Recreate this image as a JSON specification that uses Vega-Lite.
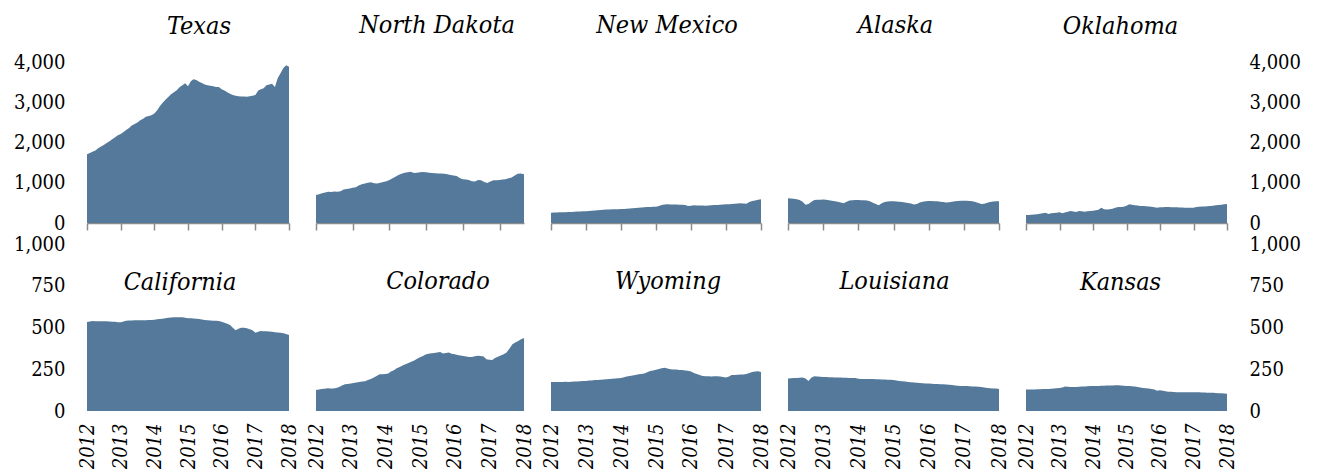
{
"$schema": "https://vega.github.io/schema/vega-lite/v6.json",
"padding": {"left": 13, "top": 13, "right": 5, "bottom": 0},
"background": "white",
"config": {
  "view": {"stroke": null},
  "font": "DejaVu Serif Condensed",
  "title": {"font": "DejaVu Serif Condensed", "fontSize": 25, "fontStyle": "italic", "fontWeight": "normal", "color": "#000000", "frame": "group", "anchor": "middle", "offset": 24},
  "axis": {"grid": false, "title": null, "labelFont": "DejaVu Serif Condensed", "labelColor": "#000000", "labelFontSize": 20, "labelOverlap": false, "labelFlush": false},
  "axisY": {"ticks": false, "domain": false, "labelPadding": 22},
  "area": {"color": "#55799a"}
},
"data": {"values": [
{"st":"TX","m":"2012-01","v":1706},{"st":"TX","m":"2012-02","v":1740},{"st":"TX","m":"2012-03","v":1770},{"st":"TX","m":"2012-04","v":1800},{"st":"TX","m":"2012-05","v":1860},{"st":"TX","m":"2012-06","v":1900},{"st":"TX","m":"2012-07","v":1940},{"st":"TX","m":"2012-08","v":1985},{"st":"TX","m":"2012-09","v":2030},{"st":"TX","m":"2012-10","v":2080},{"st":"TX","m":"2012-11","v":2130},{"st":"TX","m":"2012-12","v":2180},
{"st":"TX","m":"2013-01","v":2210},{"st":"TX","m":"2013-02","v":2260},{"st":"TX","m":"2013-03","v":2310},{"st":"TX","m":"2013-04","v":2360},{"st":"TX","m":"2013-05","v":2420},{"st":"TX","m":"2013-06","v":2460},{"st":"TX","m":"2013-07","v":2500},{"st":"TX","m":"2013-08","v":2550},{"st":"TX","m":"2013-09","v":2590},{"st":"TX","m":"2013-10","v":2640},{"st":"TX","m":"2013-11","v":2660},{"st":"TX","m":"2013-12","v":2680},
{"st":"TX","m":"2014-01","v":2720},{"st":"TX","m":"2014-02","v":2800},{"st":"TX","m":"2014-03","v":2900},{"st":"TX","m":"2014-04","v":2990},{"st":"TX","m":"2014-05","v":3060},{"st":"TX","m":"2014-06","v":3130},{"st":"TX","m":"2014-07","v":3200},{"st":"TX","m":"2014-08","v":3250},{"st":"TX","m":"2014-09","v":3300},{"st":"TX","m":"2014-10","v":3370},{"st":"TX","m":"2014-11","v":3420},{"st":"TX","m":"2014-12","v":3470},
{"st":"TX","m":"2015-01","v":3400},{"st":"TX","m":"2015-02","v":3520},{"st":"TX","m":"2015-03","v":3570},{"st":"TX","m":"2015-04","v":3550},{"st":"TX","m":"2015-05","v":3510},{"st":"TX","m":"2015-06","v":3480},{"st":"TX","m":"2015-07","v":3440},{"st":"TX","m":"2015-08","v":3420},{"st":"TX","m":"2015-09","v":3410},{"st":"TX","m":"2015-10","v":3400},{"st":"TX","m":"2015-11","v":3380},{"st":"TX","m":"2015-12","v":3380},
{"st":"TX","m":"2016-01","v":3320},{"st":"TX","m":"2016-02","v":3290},{"st":"TX","m":"2016-03","v":3250},{"st":"TX","m":"2016-04","v":3210},{"st":"TX","m":"2016-05","v":3180},{"st":"TX","m":"2016-06","v":3160},{"st":"TX","m":"2016-07","v":3150},{"st":"TX","m":"2016-08","v":3140},{"st":"TX","m":"2016-09","v":3140},{"st":"TX","m":"2016-10","v":3135},{"st":"TX","m":"2016-11","v":3150},{"st":"TX","m":"2016-12","v":3160},
{"st":"TX","m":"2017-01","v":3180},{"st":"TX","m":"2017-02","v":3290},{"st":"TX","m":"2017-03","v":3320},{"st":"TX","m":"2017-04","v":3350},{"st":"TX","m":"2017-05","v":3420},{"st":"TX","m":"2017-06","v":3440},{"st":"TX","m":"2017-07","v":3460},{"st":"TX","m":"2017-08","v":3380},{"st":"TX","m":"2017-09","v":3600},{"st":"TX","m":"2017-10","v":3720},{"st":"TX","m":"2017-11","v":3850},{"st":"TX","m":"2017-12","v":3920},{"st":"TX","m":"2018-01","v":3880},
{"st":"ND","m":"2012-01","v":696},{"st":"ND","m":"2012-02","v":715},{"st":"ND","m":"2012-03","v":740},{"st":"ND","m":"2012-04","v":760},{"st":"ND","m":"2012-05","v":778},{"st":"ND","m":"2012-06","v":772},{"st":"ND","m":"2012-07","v":780},{"st":"ND","m":"2012-08","v":778},{"st":"ND","m":"2012-09","v":790},{"st":"ND","m":"2012-10","v":830},{"st":"ND","m":"2012-11","v":845},{"st":"ND","m":"2012-12","v":860},
{"st":"ND","m":"2013-01","v":875},{"st":"ND","m":"2013-02","v":890},{"st":"ND","m":"2013-03","v":930},{"st":"ND","m":"2013-04","v":960},{"st":"ND","m":"2013-05","v":980},{"st":"ND","m":"2013-06","v":1000},{"st":"ND","m":"2013-07","v":1010},{"st":"ND","m":"2013-08","v":990},{"st":"ND","m":"2013-09","v":980},{"st":"ND","m":"2013-10","v":1000},{"st":"ND","m":"2013-11","v":1020},{"st":"ND","m":"2013-12","v":1040},
{"st":"ND","m":"2014-01","v":1070},{"st":"ND","m":"2014-02","v":1110},{"st":"ND","m":"2014-03","v":1150},{"st":"ND","m":"2014-04","v":1190},{"st":"ND","m":"2014-05","v":1225},{"st":"ND","m":"2014-06","v":1250},{"st":"ND","m":"2014-07","v":1260},{"st":"ND","m":"2014-08","v":1275},{"st":"ND","m":"2014-09","v":1240},{"st":"ND","m":"2014-10","v":1250},{"st":"ND","m":"2014-11","v":1262},{"st":"ND","m":"2014-12","v":1267},
{"st":"ND","m":"2015-01","v":1262},{"st":"ND","m":"2015-02","v":1250},{"st":"ND","m":"2015-03","v":1240},{"st":"ND","m":"2015-04","v":1238},{"st":"ND","m":"2015-05","v":1230},{"st":"ND","m":"2015-06","v":1228},{"st":"ND","m":"2015-07","v":1225},{"st":"ND","m":"2015-08","v":1210},{"st":"ND","m":"2015-09","v":1190},{"st":"ND","m":"2015-10","v":1180},{"st":"ND","m":"2015-11","v":1170},{"st":"ND","m":"2015-12","v":1120},
{"st":"ND","m":"2016-01","v":1090},{"st":"ND","m":"2016-02","v":1080},{"st":"ND","m":"2016-03","v":1070},{"st":"ND","m":"2016-04","v":1040},{"st":"ND","m":"2016-05","v":1030},{"st":"ND","m":"2016-06","v":1070},{"st":"ND","m":"2016-07","v":1060},{"st":"ND","m":"2016-08","v":1020},{"st":"ND","m":"2016-09","v":995},{"st":"ND","m":"2016-10","v":1030},{"st":"ND","m":"2016-11","v":1060},{"st":"ND","m":"2016-12","v":1065},
{"st":"ND","m":"2017-01","v":1070},{"st":"ND","m":"2017-02","v":1078},{"st":"ND","m":"2017-03","v":1090},{"st":"ND","m":"2017-04","v":1110},{"st":"ND","m":"2017-05","v":1130},{"st":"ND","m":"2017-06","v":1180},{"st":"ND","m":"2017-07","v":1225},{"st":"ND","m":"2017-08","v":1230},{"st":"ND","m":"2017-09","v":1210},
{"st":"NM","m":"2012-01","v":257},{"st":"NM","m":"2012-02","v":259},{"st":"NM","m":"2012-03","v":261},{"st":"NM","m":"2012-04","v":264},{"st":"NM","m":"2012-05","v":267},{"st":"NM","m":"2012-06","v":270},{"st":"NM","m":"2012-07","v":273},{"st":"NM","m":"2012-08","v":276},{"st":"NM","m":"2012-09","v":280},{"st":"NM","m":"2012-10","v":284},{"st":"NM","m":"2012-11","v":287},{"st":"NM","m":"2012-12","v":290},
{"st":"NM","m":"2013-01","v":293},{"st":"NM","m":"2013-02","v":297},{"st":"NM","m":"2013-03","v":303},{"st":"NM","m":"2013-04","v":310},{"st":"NM","m":"2013-05","v":318},{"st":"NM","m":"2013-06","v":325},{"st":"NM","m":"2013-07","v":331},{"st":"NM","m":"2013-08","v":334},{"st":"NM","m":"2013-09","v":337},{"st":"NM","m":"2013-10","v":339},{"st":"NM","m":"2013-11","v":340},{"st":"NM","m":"2013-12","v":342},
{"st":"NM","m":"2014-01","v":345},{"st":"NM","m":"2014-02","v":350},{"st":"NM","m":"2014-03","v":355},{"st":"NM","m":"2014-04","v":362},{"st":"NM","m":"2014-05","v":368},{"st":"NM","m":"2014-06","v":374},{"st":"NM","m":"2014-07","v":380},{"st":"NM","m":"2014-08","v":386},{"st":"NM","m":"2014-09","v":392},{"st":"NM","m":"2014-10","v":397},{"st":"NM","m":"2014-11","v":400},{"st":"NM","m":"2014-12","v":403},
{"st":"NM","m":"2015-01","v":406},{"st":"NM","m":"2015-02","v":420},{"st":"NM","m":"2015-03","v":450},{"st":"NM","m":"2015-04","v":460},{"st":"NM","m":"2015-05","v":464},{"st":"NM","m":"2015-06","v":462},{"st":"NM","m":"2015-07","v":460},{"st":"NM","m":"2015-08","v":458},{"st":"NM","m":"2015-09","v":455},{"st":"NM","m":"2015-10","v":452},{"st":"NM","m":"2015-11","v":450},{"st":"NM","m":"2015-12","v":420},
{"st":"NM","m":"2016-01","v":430},{"st":"NM","m":"2016-02","v":439},{"st":"NM","m":"2016-03","v":437},{"st":"NM","m":"2016-04","v":434},{"st":"NM","m":"2016-05","v":432},{"st":"NM","m":"2016-06","v":431},{"st":"NM","m":"2016-07","v":435},{"st":"NM","m":"2016-08","v":440},{"st":"NM","m":"2016-09","v":445},{"st":"NM","m":"2016-10","v":450},{"st":"NM","m":"2016-11","v":455},{"st":"NM","m":"2016-12","v":460},
{"st":"NM","m":"2017-01","v":464},{"st":"NM","m":"2017-02","v":468},{"st":"NM","m":"2017-03","v":474},{"st":"NM","m":"2017-04","v":480},{"st":"NM","m":"2017-05","v":487},{"st":"NM","m":"2017-06","v":490},{"st":"NM","m":"2017-07","v":482},{"st":"NM","m":"2017-08","v":480},{"st":"NM","m":"2017-09","v":520},{"st":"NM","m":"2017-10","v":546},{"st":"NM","m":"2017-11","v":560},{"st":"NM","m":"2017-12","v":575},{"st":"NM","m":"2018-01","v":588},
{"st":"AK","m":"2012-01","v":613},{"st":"AK","m":"2012-02","v":610},{"st":"AK","m":"2012-03","v":604},{"st":"AK","m":"2012-04","v":590},{"st":"AK","m":"2012-05","v":570},{"st":"AK","m":"2012-06","v":530},{"st":"AK","m":"2012-07","v":455},{"st":"AK","m":"2012-08","v":470},{"st":"AK","m":"2012-09","v":530},{"st":"AK","m":"2012-10","v":570},{"st":"AK","m":"2012-11","v":580},{"st":"AK","m":"2012-12","v":580},
{"st":"AK","m":"2013-01","v":582},{"st":"AK","m":"2013-02","v":575},{"st":"AK","m":"2013-03","v":565},{"st":"AK","m":"2013-04","v":555},{"st":"AK","m":"2013-05","v":540},{"st":"AK","m":"2013-06","v":525},{"st":"AK","m":"2013-07","v":510},{"st":"AK","m":"2013-08","v":489},{"st":"AK","m":"2013-09","v":530},{"st":"AK","m":"2013-10","v":560},{"st":"AK","m":"2013-11","v":568},{"st":"AK","m":"2013-12","v":571},
{"st":"AK","m":"2014-01","v":571},{"st":"AK","m":"2014-02","v":568},{"st":"AK","m":"2014-03","v":565},{"st":"AK","m":"2014-04","v":562},{"st":"AK","m":"2014-05","v":540},{"st":"AK","m":"2014-06","v":505},{"st":"AK","m":"2014-07","v":470},{"st":"AK","m":"2014-08","v":440},{"st":"AK","m":"2014-09","v":490},{"st":"AK","m":"2014-10","v":522},{"st":"AK","m":"2014-11","v":532},{"st":"AK","m":"2014-12","v":538},
{"st":"AK","m":"2015-01","v":540},{"st":"AK","m":"2015-02","v":535},{"st":"AK","m":"2015-03","v":528},{"st":"AK","m":"2015-04","v":520},{"st":"AK","m":"2015-05","v":510},{"st":"AK","m":"2015-06","v":495},{"st":"AK","m":"2015-07","v":485},{"st":"AK","m":"2015-08","v":460},{"st":"AK","m":"2015-09","v":470},{"st":"AK","m":"2015-10","v":510},{"st":"AK","m":"2015-11","v":525},{"st":"AK","m":"2015-12","v":540},
{"st":"AK","m":"2016-01","v":546},{"st":"AK","m":"2016-02","v":544},{"st":"AK","m":"2016-03","v":540},{"st":"AK","m":"2016-04","v":538},{"st":"AK","m":"2016-05","v":530},{"st":"AK","m":"2016-06","v":520},{"st":"AK","m":"2016-07","v":508},{"st":"AK","m":"2016-08","v":515},{"st":"AK","m":"2016-09","v":530},{"st":"AK","m":"2016-10","v":538},{"st":"AK","m":"2016-11","v":545},{"st":"AK","m":"2016-12","v":550},
{"st":"AK","m":"2017-01","v":555},{"st":"AK","m":"2017-02","v":552},{"st":"AK","m":"2017-03","v":548},{"st":"AK","m":"2017-04","v":540},{"st":"AK","m":"2017-05","v":520},{"st":"AK","m":"2017-06","v":500},{"st":"AK","m":"2017-07","v":470},{"st":"AK","m":"2017-08","v":480},{"st":"AK","m":"2017-09","v":505},{"st":"AK","m":"2017-10","v":522},{"st":"AK","m":"2017-11","v":532},{"st":"AK","m":"2017-12","v":538},{"st":"AK","m":"2018-01","v":538},
{"st":"OK","m":"2012-01","v":199},{"st":"OK","m":"2012-02","v":200},{"st":"OK","m":"2012-03","v":204},{"st":"OK","m":"2012-04","v":210},{"st":"OK","m":"2012-05","v":218},{"st":"OK","m":"2012-06","v":232},{"st":"OK","m":"2012-07","v":245},{"st":"OK","m":"2012-08","v":257},{"st":"OK","m":"2012-09","v":224},{"st":"OK","m":"2012-10","v":240},{"st":"OK","m":"2012-11","v":248},{"st":"OK","m":"2012-12","v":255},
{"st":"OK","m":"2013-01","v":265},{"st":"OK","m":"2013-02","v":240},{"st":"OK","m":"2013-03","v":262},{"st":"OK","m":"2013-04","v":282},{"st":"OK","m":"2013-05","v":298},{"st":"OK","m":"2013-06","v":285},{"st":"OK","m":"2013-07","v":273},{"st":"OK","m":"2013-08","v":298},{"st":"OK","m":"2013-09","v":290},{"st":"OK","m":"2013-10","v":282},{"st":"OK","m":"2013-11","v":290},{"st":"OK","m":"2013-12","v":298},
{"st":"OK","m":"2014-01","v":305},{"st":"OK","m":"2014-02","v":315},{"st":"OK","m":"2014-03","v":331},{"st":"OK","m":"2014-04","v":381},{"st":"OK","m":"2014-05","v":340},{"st":"OK","m":"2014-06","v":338},{"st":"OK","m":"2014-07","v":340},{"st":"OK","m":"2014-08","v":355},{"st":"OK","m":"2014-09","v":381},{"st":"OK","m":"2014-10","v":397},{"st":"OK","m":"2014-11","v":400},{"st":"OK","m":"2014-12","v":406},
{"st":"OK","m":"2015-01","v":431},{"st":"OK","m":"2015-02","v":464},{"st":"OK","m":"2015-03","v":455},{"st":"OK","m":"2015-04","v":439},{"st":"OK","m":"2015-05","v":432},{"st":"OK","m":"2015-06","v":425},{"st":"OK","m":"2015-07","v":422},{"st":"OK","m":"2015-08","v":415},{"st":"OK","m":"2015-09","v":410},{"st":"OK","m":"2015-10","v":406},{"st":"OK","m":"2015-11","v":390},{"st":"OK","m":"2015-12","v":381},
{"st":"OK","m":"2016-01","v":389},{"st":"OK","m":"2016-02","v":392},{"st":"OK","m":"2016-03","v":395},{"st":"OK","m":"2016-04","v":397},{"st":"OK","m":"2016-05","v":394},{"st":"OK","m":"2016-06","v":391},{"st":"OK","m":"2016-07","v":389},{"st":"OK","m":"2016-08","v":386},{"st":"OK","m":"2016-09","v":384},{"st":"OK","m":"2016-10","v":381},{"st":"OK","m":"2016-11","v":380},{"st":"OK","m":"2016-12","v":381},
{"st":"OK","m":"2017-01","v":381},{"st":"OK","m":"2017-02","v":395},{"st":"OK","m":"2017-03","v":406},{"st":"OK","m":"2017-04","v":410},{"st":"OK","m":"2017-05","v":412},{"st":"OK","m":"2017-06","v":414},{"st":"OK","m":"2017-07","v":420},{"st":"OK","m":"2017-08","v":430},{"st":"OK","m":"2017-09","v":440},{"st":"OK","m":"2017-10","v":447},{"st":"OK","m":"2017-11","v":455},{"st":"OK","m":"2017-12","v":465},{"st":"OK","m":"2018-01","v":472},
{"st":"CA","m":"2012-01","v":533},{"st":"CA","m":"2012-02","v":536},{"st":"CA","m":"2012-03","v":539},{"st":"CA","m":"2012-04","v":538},{"st":"CA","m":"2012-05","v":538},{"st":"CA","m":"2012-06","v":537},{"st":"CA","m":"2012-07","v":537},{"st":"CA","m":"2012-08","v":537},{"st":"CA","m":"2012-09","v":536},{"st":"CA","m":"2012-10","v":535},{"st":"CA","m":"2012-11","v":534},{"st":"CA","m":"2012-12","v":532},
{"st":"CA","m":"2013-01","v":531},{"st":"CA","m":"2013-02","v":536},{"st":"CA","m":"2013-03","v":541},{"st":"CA","m":"2013-04","v":542},{"st":"CA","m":"2013-05","v":542},{"st":"CA","m":"2013-06","v":543},{"st":"CA","m":"2013-07","v":543},{"st":"CA","m":"2013-08","v":544},{"st":"CA","m":"2013-09","v":544},{"st":"CA","m":"2013-10","v":544},{"st":"CA","m":"2013-11","v":545},{"st":"CA","m":"2013-12","v":545},
{"st":"CA","m":"2014-01","v":547},{"st":"CA","m":"2014-02","v":549},{"st":"CA","m":"2014-03","v":551},{"st":"CA","m":"2014-04","v":553},{"st":"CA","m":"2014-05","v":555},{"st":"CA","m":"2014-06","v":558},{"st":"CA","m":"2014-07","v":560},{"st":"CA","m":"2014-08","v":561},{"st":"CA","m":"2014-09","v":561},{"st":"CA","m":"2014-10","v":561},{"st":"CA","m":"2014-11","v":561},{"st":"CA","m":"2014-12","v":559},
{"st":"CA","m":"2015-01","v":556},{"st":"CA","m":"2015-02","v":555},{"st":"CA","m":"2015-03","v":554},{"st":"CA","m":"2015-04","v":552},{"st":"CA","m":"2015-05","v":551},{"st":"CA","m":"2015-06","v":548},{"st":"CA","m":"2015-07","v":545},{"st":"CA","m":"2015-08","v":543},{"st":"CA","m":"2015-09","v":542},{"st":"CA","m":"2015-10","v":541},{"st":"CA","m":"2015-11","v":540},{"st":"CA","m":"2015-12","v":539},
{"st":"CA","m":"2016-01","v":535},{"st":"CA","m":"2016-02","v":529},{"st":"CA","m":"2016-03","v":522},{"st":"CA","m":"2016-04","v":515},{"st":"CA","m":"2016-05","v":499},{"st":"CA","m":"2016-06","v":483},{"st":"CA","m":"2016-07","v":492},{"st":"CA","m":"2016-08","v":499},{"st":"CA","m":"2016-09","v":498},{"st":"CA","m":"2016-10","v":495},{"st":"CA","m":"2016-11","v":490},{"st":"CA","m":"2016-12","v":483},
{"st":"CA","m":"2017-01","v":469},{"st":"CA","m":"2017-02","v":475},{"st":"CA","m":"2017-03","v":479},{"st":"CA","m":"2017-04","v":478},{"st":"CA","m":"2017-05","v":477},{"st":"CA","m":"2017-06","v":476},{"st":"CA","m":"2017-07","v":474},{"st":"CA","m":"2017-08","v":471},{"st":"CA","m":"2017-09","v":470},{"st":"CA","m":"2017-10","v":469},{"st":"CA","m":"2017-11","v":466},{"st":"CA","m":"2017-12","v":461},{"st":"CA","m":"2018-01","v":455},
{"st":"CO","m":"2012-01","v":126},{"st":"CO","m":"2012-02","v":129},{"st":"CO","m":"2012-03","v":131},{"st":"CO","m":"2012-04","v":133},{"st":"CO","m":"2012-05","v":136},{"st":"CO","m":"2012-06","v":135},{"st":"CO","m":"2012-07","v":134},{"st":"CO","m":"2012-08","v":138},{"st":"CO","m":"2012-09","v":144},{"st":"CO","m":"2012-10","v":152},{"st":"CO","m":"2012-11","v":160},{"st":"CO","m":"2012-12","v":162},
{"st":"CO","m":"2013-01","v":164},{"st":"CO","m":"2013-02","v":167},{"st":"CO","m":"2013-03","v":170},{"st":"CO","m":"2013-04","v":173},{"st":"CO","m":"2013-05","v":176},{"st":"CO","m":"2013-06","v":178},{"st":"CO","m":"2013-07","v":185},{"st":"CO","m":"2013-08","v":192},{"st":"CO","m":"2013-09","v":200},{"st":"CO","m":"2013-10","v":210},{"st":"CO","m":"2013-11","v":220},{"st":"CO","m":"2013-12","v":220},
{"st":"CO","m":"2014-01","v":221},{"st":"CO","m":"2014-02","v":224},{"st":"CO","m":"2014-03","v":236},{"st":"CO","m":"2014-04","v":244},{"st":"CO","m":"2014-05","v":256},{"st":"CO","m":"2014-06","v":263},{"st":"CO","m":"2014-07","v":272},{"st":"CO","m":"2014-08","v":280},{"st":"CO","m":"2014-09","v":287},{"st":"CO","m":"2014-10","v":295},{"st":"CO","m":"2014-11","v":303},{"st":"CO","m":"2014-12","v":313},
{"st":"CO","m":"2015-01","v":322},{"st":"CO","m":"2015-02","v":330},{"st":"CO","m":"2015-03","v":338},{"st":"CO","m":"2015-04","v":343},{"st":"CO","m":"2015-05","v":346},{"st":"CO","m":"2015-06","v":348},{"st":"CO","m":"2015-07","v":351},{"st":"CO","m":"2015-08","v":353},{"st":"CO","m":"2015-09","v":345},{"st":"CO","m":"2015-10","v":348},{"st":"CO","m":"2015-11","v":350},{"st":"CO","m":"2015-12","v":343},
{"st":"CO","m":"2016-01","v":340},{"st":"CO","m":"2016-02","v":336},{"st":"CO","m":"2016-03","v":333},{"st":"CO","m":"2016-04","v":330},{"st":"CO","m":"2016-05","v":327},{"st":"CO","m":"2016-06","v":324},{"st":"CO","m":"2016-07","v":323},{"st":"CO","m":"2016-08","v":328},{"st":"CO","m":"2016-09","v":331},{"st":"CO","m":"2016-10","v":329},{"st":"CO","m":"2016-11","v":327},{"st":"CO","m":"2016-12","v":310},
{"st":"CO","m":"2017-01","v":307},{"st":"CO","m":"2017-02","v":306},{"st":"CO","m":"2017-03","v":318},{"st":"CO","m":"2017-04","v":325},{"st":"CO","m":"2017-05","v":332},{"st":"CO","m":"2017-06","v":340},{"st":"CO","m":"2017-07","v":350},{"st":"CO","m":"2017-08","v":375},{"st":"CO","m":"2017-09","v":400},{"st":"CO","m":"2017-10","v":410},{"st":"CO","m":"2017-11","v":419},{"st":"CO","m":"2017-12","v":430},{"st":"CO","m":"2018-01","v":437},
{"st":"WY","m":"2012-01","v":174},{"st":"WY","m":"2012-02","v":174},{"st":"WY","m":"2012-03","v":173},{"st":"WY","m":"2012-04","v":174},{"st":"WY","m":"2012-05","v":174},{"st":"WY","m":"2012-06","v":175},{"st":"WY","m":"2012-07","v":174},{"st":"WY","m":"2012-08","v":175},{"st":"WY","m":"2012-09","v":176},{"st":"WY","m":"2012-10","v":177},{"st":"WY","m":"2012-11","v":178},{"st":"WY","m":"2012-12","v":179},
{"st":"WY","m":"2013-01","v":180},{"st":"WY","m":"2013-02","v":182},{"st":"WY","m":"2013-03","v":183},{"st":"WY","m":"2013-04","v":185},{"st":"WY","m":"2013-05","v":186},{"st":"WY","m":"2013-06","v":187},{"st":"WY","m":"2013-07","v":188},{"st":"WY","m":"2013-08","v":190},{"st":"WY","m":"2013-09","v":191},{"st":"WY","m":"2013-10","v":193},{"st":"WY","m":"2013-11","v":194},{"st":"WY","m":"2013-12","v":196},
{"st":"WY","m":"2014-01","v":198},{"st":"WY","m":"2014-02","v":202},{"st":"WY","m":"2014-03","v":206},{"st":"WY","m":"2014-04","v":209},{"st":"WY","m":"2014-05","v":213},{"st":"WY","m":"2014-06","v":216},{"st":"WY","m":"2014-07","v":220},{"st":"WY","m":"2014-08","v":222},{"st":"WY","m":"2014-09","v":225},{"st":"WY","m":"2014-10","v":232},{"st":"WY","m":"2014-11","v":240},{"st":"WY","m":"2014-12","v":243},
{"st":"WY","m":"2015-01","v":247},{"st":"WY","m":"2015-02","v":251},{"st":"WY","m":"2015-03","v":256},{"st":"WY","m":"2015-04","v":259},{"st":"WY","m":"2015-05","v":254},{"st":"WY","m":"2015-06","v":250},{"st":"WY","m":"2015-07","v":249},{"st":"WY","m":"2015-08","v":248},{"st":"WY","m":"2015-09","v":246},{"st":"WY","m":"2015-10","v":245},{"st":"WY","m":"2015-11","v":243},{"st":"WY","m":"2015-12","v":241},
{"st":"WY","m":"2016-01","v":236},{"st":"WY","m":"2016-02","v":228},{"st":"WY","m":"2016-03","v":222},{"st":"WY","m":"2016-04","v":216},{"st":"WY","m":"2016-05","v":210},{"st":"WY","m":"2016-06","v":208},{"st":"WY","m":"2016-07","v":208},{"st":"WY","m":"2016-08","v":207},{"st":"WY","m":"2016-09","v":208},{"st":"WY","m":"2016-10","v":208},{"st":"WY","m":"2016-11","v":206},{"st":"WY","m":"2016-12","v":203},
{"st":"WY","m":"2017-01","v":200},{"st":"WY","m":"2017-02","v":207},{"st":"WY","m":"2017-03","v":216},{"st":"WY","m":"2017-04","v":216},{"st":"WY","m":"2017-05","v":217},{"st":"WY","m":"2017-06","v":218},{"st":"WY","m":"2017-07","v":218},{"st":"WY","m":"2017-08","v":222},{"st":"WY","m":"2017-09","v":228},{"st":"WY","m":"2017-10","v":234},{"st":"WY","m":"2017-11","v":237},{"st":"WY","m":"2017-12","v":238},{"st":"WY","m":"2018-01","v":234},
{"st":"LA","m":"2012-01","v":194},{"st":"LA","m":"2012-02","v":196},{"st":"LA","m":"2012-03","v":197},{"st":"LA","m":"2012-04","v":198},{"st":"LA","m":"2012-05","v":199},{"st":"LA","m":"2012-06","v":200},{"st":"LA","m":"2012-07","v":194},{"st":"LA","m":"2012-08","v":180},{"st":"LA","m":"2012-09","v":200},{"st":"LA","m":"2012-10","v":208},{"st":"LA","m":"2012-11","v":206},{"st":"LA","m":"2012-12","v":205},
{"st":"LA","m":"2013-01","v":204},{"st":"LA","m":"2013-02","v":203},{"st":"LA","m":"2013-03","v":202},{"st":"LA","m":"2013-04","v":202},{"st":"LA","m":"2013-05","v":201},{"st":"LA","m":"2013-06","v":200},{"st":"LA","m":"2013-07","v":200},{"st":"LA","m":"2013-08","v":199},{"st":"LA","m":"2013-09","v":199},{"st":"LA","m":"2013-10","v":198},{"st":"LA","m":"2013-11","v":198},{"st":"LA","m":"2013-12","v":197},
{"st":"LA","m":"2014-01","v":193},{"st":"LA","m":"2014-02","v":192},{"st":"LA","m":"2014-03","v":192},{"st":"LA","m":"2014-04","v":191},{"st":"LA","m":"2014-05","v":191},{"st":"LA","m":"2014-06","v":191},{"st":"LA","m":"2014-07","v":190},{"st":"LA","m":"2014-08","v":190},{"st":"LA","m":"2014-09","v":189},{"st":"LA","m":"2014-10","v":188},{"st":"LA","m":"2014-11","v":187},{"st":"LA","m":"2014-12","v":187},
{"st":"LA","m":"2015-01","v":186},{"st":"LA","m":"2015-02","v":183},{"st":"LA","m":"2015-03","v":180},{"st":"LA","m":"2015-04","v":178},{"st":"LA","m":"2015-05","v":176},{"st":"LA","m":"2015-06","v":174},{"st":"LA","m":"2015-07","v":172},{"st":"LA","m":"2015-08","v":170},{"st":"LA","m":"2015-09","v":169},{"st":"LA","m":"2015-10","v":167},{"st":"LA","m":"2015-11","v":166},{"st":"LA","m":"2015-12","v":165},
{"st":"LA","m":"2016-01","v":164},{"st":"LA","m":"2016-02","v":163},{"st":"LA","m":"2016-03","v":162},{"st":"LA","m":"2016-04","v":161},{"st":"LA","m":"2016-05","v":160},{"st":"LA","m":"2016-06","v":160},{"st":"LA","m":"2016-07","v":159},{"st":"LA","m":"2016-08","v":157},{"st":"LA","m":"2016-09","v":155},{"st":"LA","m":"2016-10","v":153},{"st":"LA","m":"2016-11","v":151},{"st":"LA","m":"2016-12","v":150},
{"st":"LA","m":"2017-01","v":150},{"st":"LA","m":"2017-02","v":149},{"st":"LA","m":"2017-03","v":148},{"st":"LA","m":"2017-04","v":147},{"st":"LA","m":"2017-05","v":146},{"st":"LA","m":"2017-06","v":145},{"st":"LA","m":"2017-07","v":144},{"st":"LA","m":"2017-08","v":141},{"st":"LA","m":"2017-09","v":138},{"st":"LA","m":"2017-10","v":136},{"st":"LA","m":"2017-11","v":135},{"st":"LA","m":"2017-12","v":134},{"st":"LA","m":"2018-01","v":132},
{"st":"KS","m":"2012-01","v":128},{"st":"KS","m":"2012-02","v":128},{"st":"KS","m":"2012-03","v":129},{"st":"KS","m":"2012-04","v":129},{"st":"KS","m":"2012-05","v":130},{"st":"KS","m":"2012-06","v":130},{"st":"KS","m":"2012-07","v":131},{"st":"KS","m":"2012-08","v":131},{"st":"KS","m":"2012-09","v":132},{"st":"KS","m":"2012-10","v":133},{"st":"KS","m":"2012-11","v":134},{"st":"KS","m":"2012-12","v":136},
{"st":"KS","m":"2013-01","v":138},{"st":"KS","m":"2013-02","v":141},{"st":"KS","m":"2013-03","v":146},{"st":"KS","m":"2013-04","v":145},{"st":"KS","m":"2013-05","v":144},{"st":"KS","m":"2013-06","v":144},{"st":"KS","m":"2013-07","v":144},{"st":"KS","m":"2013-08","v":145},{"st":"KS","m":"2013-09","v":146},{"st":"KS","m":"2013-10","v":147},{"st":"KS","m":"2013-11","v":148},{"st":"KS","m":"2013-12","v":149},
{"st":"KS","m":"2014-01","v":149},{"st":"KS","m":"2014-02","v":150},{"st":"KS","m":"2014-03","v":150},{"st":"KS","m":"2014-04","v":151},{"st":"KS","m":"2014-05","v":151},{"st":"KS","m":"2014-06","v":152},{"st":"KS","m":"2014-07","v":153},{"st":"KS","m":"2014-08","v":153},{"st":"KS","m":"2014-09","v":154},{"st":"KS","m":"2014-10","v":154},{"st":"KS","m":"2014-11","v":153},{"st":"KS","m":"2014-12","v":151},
{"st":"KS","m":"2015-01","v":150},{"st":"KS","m":"2015-02","v":149},{"st":"KS","m":"2015-03","v":148},{"st":"KS","m":"2015-04","v":146},{"st":"KS","m":"2015-05","v":144},{"st":"KS","m":"2015-06","v":141},{"st":"KS","m":"2015-07","v":138},{"st":"KS","m":"2015-08","v":136},{"st":"KS","m":"2015-09","v":134},{"st":"KS","m":"2015-10","v":131},{"st":"KS","m":"2015-11","v":128},{"st":"KS","m":"2015-12","v":122},
{"st":"KS","m":"2016-01","v":124},{"st":"KS","m":"2016-02","v":122},{"st":"KS","m":"2016-03","v":119},{"st":"KS","m":"2016-04","v":116},{"st":"KS","m":"2016-05","v":115},{"st":"KS","m":"2016-06","v":114},{"st":"KS","m":"2016-07","v":112},{"st":"KS","m":"2016-08","v":112},{"st":"KS","m":"2016-09","v":112},{"st":"KS","m":"2016-10","v":112},{"st":"KS","m":"2016-11","v":112},{"st":"KS","m":"2016-12","v":112},
{"st":"KS","m":"2017-01","v":112},{"st":"KS","m":"2017-02","v":112},{"st":"KS","m":"2017-03","v":112},{"st":"KS","m":"2017-04","v":111},{"st":"KS","m":"2017-05","v":111},{"st":"KS","m":"2017-06","v":110},{"st":"KS","m":"2017-07","v":110},{"st":"KS","m":"2017-08","v":109},{"st":"KS","m":"2017-09","v":108},{"st":"KS","m":"2017-10","v":107},{"st":"KS","m":"2017-11","v":106},{"st":"KS","m":"2017-12","v":105},{"st":"KS","m":"2018-01","v":104}
]},
"columns": 5,
"spacing": {"row": 21, "column": 27},
"bounds": "flush",
"concat": [
{"width": 202, "height": 161, "title": {"text": "Texas", "dx": 11, "offset": 13},
 "transform": [{"filter": "datum.st === 'TX'"}], "mark": "area",
 "encoding": {
  "x": {"field": "m", "type": "temporal", "scale": {"type": "utc", "domain": [{"year": 2012, "month": 1, "date": 1, "utc": true}, {"year": 2018, "month": 1, "date": 1, "utc": true}]},
        "axis": {"labels": false, "ticks": true, "tickSize": 7, "tickWidth": 1.5, "tickColor": "#8c8c8c", "domain": true, "domainColor": "#8c8c8c", "domainWidth": 1.5, "values": [{"year": 2012, "utc": true}, {"year": 2013, "utc": true}, {"year": 2014, "utc": true}, {"year": 2015, "utc": true}, {"year": 2016, "utc": true}, {"year": 2017, "utc": true}, {"year": 2018, "utc": true}]}},
  "y": {"field": "v", "type": "quantitative", "scale": {"domain": [0, 4000]}, "axis": {"orient": "left", "format": ",.0f", "values": [0, 1000, 2000, 3000, 4000]}}
 }},
{"width": 208, "height": 161, "title": {"text": "North Dakota", "dx": 17},
 "transform": [{"filter": "datum.st === 'ND'"}], "mark": "area",
 "encoding": {
  "x": {"field": "m", "type": "temporal", "scale": {"type": "utc", "domain": [{"year": 2012, "month": 1, "date": 1, "utc": true}, {"year": 2017, "month": 9, "date": 1, "utc": true}]},
        "axis": {"labels": false, "ticks": true, "tickSize": 7, "tickWidth": 1.5, "tickColor": "#8c8c8c", "domain": true, "domainColor": "#8c8c8c", "domainWidth": 1.5, "values": [{"year": 2012, "utc": true}, {"year": 2013, "utc": true}, {"year": 2014, "utc": true}, {"year": 2015, "utc": true}, {"year": 2016, "utc": true}, {"year": 2017, "utc": true}]}},
  "y": {"field": "v", "type": "quantitative", "scale": {"domain": [0, 4000]}, "axis": null}
 }},
{"width": 210, "height": 161, "title": {"text": "New Mexico", "dx": 11},
 "transform": [{"filter": "datum.st === 'NM'"}], "mark": "area",
 "encoding": {
  "x": {"field": "m", "type": "temporal", "scale": {"type": "utc", "domain": [{"year": 2012, "month": 1, "date": 1, "utc": true}, {"year": 2018, "month": 1, "date": 1, "utc": true}]},
        "axis": {"labels": false, "ticks": true, "tickSize": 7, "tickWidth": 1.5, "tickColor": "#8c8c8c", "domain": true, "domainColor": "#8c8c8c", "domainWidth": 1.5, "values": [{"year": 2012, "utc": true}, {"year": 2013, "utc": true}, {"year": 2014, "utc": true}, {"year": 2015, "utc": true}, {"year": 2016, "utc": true}, {"year": 2017, "utc": true}, {"year": 2018, "utc": true}]}},
  "y": {"field": "v", "type": "quantitative", "scale": {"domain": [0, 4000]}, "axis": null}
 }},
{"width": 211, "height": 161, "title": {"text": "Alaska", "dx": 2},
 "transform": [{"filter": "datum.st === 'AK'"}], "mark": "area",
 "encoding": {
  "x": {"field": "m", "type": "temporal", "scale": {"type": "utc", "domain": [{"year": 2012, "month": 1, "date": 1, "utc": true}, {"year": 2018, "month": 1, "date": 1, "utc": true}]},
        "axis": {"labels": false, "ticks": true, "tickSize": 7, "tickWidth": 1.5, "tickColor": "#8c8c8c", "domain": true, "domainColor": "#8c8c8c", "domainWidth": 1.5, "values": [{"year": 2012, "utc": true}, {"year": 2013, "utc": true}, {"year": 2014, "utc": true}, {"year": 2015, "utc": true}, {"year": 2016, "utc": true}, {"year": 2017, "utc": true}, {"year": 2018, "utc": true}]}},
  "y": {"field": "v", "type": "quantitative", "scale": {"domain": [0, 4000]}, "axis": null}
 }},
{"width": 201, "height": 161, "title": {"text": "Oklahoma", "dx": -6, "offset": 13},
 "transform": [{"filter": "datum.st === 'OK'"}], "mark": "area",
 "encoding": {
  "x": {"field": "m", "type": "temporal", "scale": {"type": "utc", "domain": [{"year": 2012, "month": 1, "date": 1, "utc": true}, {"year": 2018, "month": 1, "date": 1, "utc": true}]},
        "axis": {"labels": false, "ticks": true, "tickSize": 7, "tickWidth": 1.5, "tickColor": "#8c8c8c", "domain": true, "domainColor": "#8c8c8c", "domainWidth": 1.5, "values": [{"year": 2012, "utc": true}, {"year": 2013, "utc": true}, {"year": 2014, "utc": true}, {"year": 2015, "utc": true}, {"year": 2016, "utc": true}, {"year": 2017, "utc": true}, {"year": 2018, "utc": true}]}},
  "y": {"field": "v", "type": "quantitative", "scale": {"domain": [0, 4000]}, "axis": {"orient": "right", "format": ",.0f", "values": [0, 1000, 2000, 3000, 4000]}}
 }},
{"width": 202, "height": 167, "title": {"text": "California", "dx": -8, "offset": -61},
 "transform": [{"filter": "datum.st === 'CA'"}], "mark": "area",
 "encoding": {
  "x": {"field": "m", "type": "temporal", "scale": {"type": "utc", "domain": [{"year": 2012, "month": 1, "date": 1, "utc": true}, {"year": 2018, "month": 1, "date": 1, "utc": true}]},
        "axis": {"labels": true, "ticks": false, "domain": false, "labelAngle": -90, "labelFontSize": 20, "labelFontStyle": "italic", "labelPadding": 12, "format": "%Y", "formatType": "utc", "values": [{"year": 2012, "utc": true}, {"year": 2013, "utc": true}, {"year": 2014, "utc": true}, {"year": 2015, "utc": true}, {"year": 2016, "utc": true}, {"year": 2017, "utc": true}, {"year": 2018, "utc": true}]}},
  "y": {"field": "v", "type": "quantitative", "scale": {"domain": [0, 1000]}, "axis": {"orient": "left", "format": ",.0f", "values": [0, 250, 500, 750, 1000]}}
 }},
{"width": 208, "height": 167, "title": {"text": "Colorado", "dx": 18, "offset": -50},
 "transform": [{"filter": "datum.st === 'CO'"}], "mark": "area",
 "encoding": {
  "x": {"field": "m", "type": "temporal", "scale": {"type": "utc", "domain": [{"year": 2012, "month": 1, "date": 1, "utc": true}, {"year": 2018, "month": 1, "date": 1, "utc": true}]},
        "axis": {"labels": true, "ticks": false, "domain": false, "labelAngle": -90, "labelFontSize": 20, "labelFontStyle": "italic", "labelPadding": 12, "format": "%Y", "formatType": "utc", "values": [{"year": 2012, "utc": true}, {"year": 2013, "utc": true}, {"year": 2014, "utc": true}, {"year": 2015, "utc": true}, {"year": 2016, "utc": true}, {"year": 2017, "utc": true}, {"year": 2018, "utc": true}]}},
  "y": {"field": "v", "type": "quantitative", "scale": {"domain": [0, 1000]}, "axis": null}
 }},
{"width": 210, "height": 167, "title": {"text": "Wyoming", "dx": 12, "offset": -50},
 "transform": [{"filter": "datum.st === 'WY'"}], "mark": "area",
 "encoding": {
  "x": {"field": "m", "type": "temporal", "scale": {"type": "utc", "domain": [{"year": 2012, "month": 1, "date": 1, "utc": true}, {"year": 2018, "month": 1, "date": 1, "utc": true}]},
        "axis": {"labels": true, "ticks": false, "domain": false, "labelAngle": -90, "labelFontSize": 20, "labelFontStyle": "italic", "labelPadding": 12, "format": "%Y", "formatType": "utc", "values": [{"year": 2012, "utc": true}, {"year": 2013, "utc": true}, {"year": 2014, "utc": true}, {"year": 2015, "utc": true}, {"year": 2016, "utc": true}, {"year": 2017, "utc": true}, {"year": 2018, "utc": true}]}},
  "y": {"field": "v", "type": "quantitative", "scale": {"domain": [0, 1000]}, "axis": null}
 }},
{"width": 211, "height": 167, "title": {"text": "Louisiana", "dx": 1, "offset": -50},
 "transform": [{"filter": "datum.st === 'LA'"}], "mark": "area",
 "encoding": {
  "x": {"field": "m", "type": "temporal", "scale": {"type": "utc", "domain": [{"year": 2012, "month": 1, "date": 1, "utc": true}, {"year": 2018, "month": 1, "date": 1, "utc": true}]},
        "axis": {"labels": true, "ticks": false, "domain": false, "labelAngle": -90, "labelFontSize": 20, "labelFontStyle": "italic", "labelPadding": 12, "format": "%Y", "formatType": "utc", "values": [{"year": 2012, "utc": true}, {"year": 2013, "utc": true}, {"year": 2014, "utc": true}, {"year": 2015, "utc": true}, {"year": 2016, "utc": true}, {"year": 2017, "utc": true}, {"year": 2018, "utc": true}]}},
  "y": {"field": "v", "type": "quantitative", "scale": {"domain": [0, 1000]}, "axis": null}
 }},
{"width": 201, "height": 167, "title": {"text": "Kansas", "dx": -6, "offset": -61},
 "transform": [{"filter": "datum.st === 'KS'"}], "mark": "area",
 "encoding": {
  "x": {"field": "m", "type": "temporal", "scale": {"type": "utc", "domain": [{"year": 2012, "month": 1, "date": 1, "utc": true}, {"year": 2018, "month": 1, "date": 1, "utc": true}]},
        "axis": {"labels": true, "ticks": false, "domain": false, "labelAngle": -90, "labelFontSize": 20, "labelFontStyle": "italic", "labelPadding": 12, "format": "%Y", "formatType": "utc", "values": [{"year": 2012, "utc": true}, {"year": 2013, "utc": true}, {"year": 2014, "utc": true}, {"year": 2015, "utc": true}, {"year": 2016, "utc": true}, {"year": 2017, "utc": true}, {"year": 2018, "utc": true}]}},
  "y": {"field": "v", "type": "quantitative", "scale": {"domain": [0, 1000]}, "axis": {"orient": "right", "format": ",.0f", "values": [0, 250, 500, 750, 1000]}}
 }}
]
}
